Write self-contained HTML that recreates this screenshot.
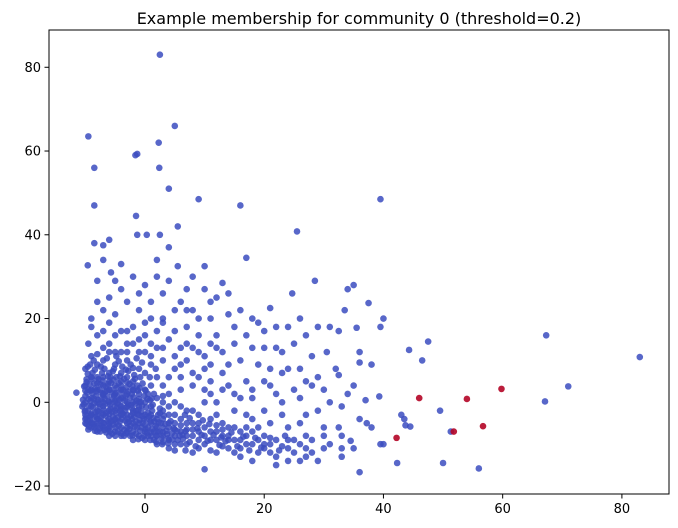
<!DOCTYPE html>
<html><head><meta charset="utf-8">
<style>
body{margin:0;background:#fff;}
svg{display:block;font-family:"DejaVu Sans","Liberation Sans",sans-serif;}
</style></head>
<body>
<svg id="chart" width="678" height="528" viewBox="0 0 678 528" xmlns="http://www.w3.org/2000/svg">
<rect width="678" height="528" fill="#fff"/>
<text x="359" y="24" font-size="16" text-anchor="middle" fill="#000">Example membership for community 0 (threshold=0.2)</text>
<g id="points"></g>
<g id="axes"></g>
</svg>
<script>
const xTicks = [0, 20, 40, 60, 80];
const yTicks = [-20, 0, 20, 40, 60, 80];
const memberX = [46, 54, 59.8, 56.7, 51.8, 42.2];
const memberY = [1, 0.8, 3.2, -5.7, -7, -8.5];
const otherPts = [[2.5,83],[-9.5,63.5],[5,66],[-8.5,56],[2.3,62],[2.4,56],[-1.6,59],[-1.3,59.3],[4,51],[9,48.5],[16,47],[39.5,48.5],[-8.5,47],[-1.5,44.5],[5.5,42],[25.5,40.8],[-1.3,40],[0.3,40],[2.5,40],[-8.5,38],[-6,38.8],[-7,37.5],[17,34.5],[-9.6,32.7],[-5.7,31],[5.5,32.5],[10,32.5],[28.5,29],[13,28.5],[35,28],[34,27],[24.7,26],[21,22.5],[37.5,23.7],[33.5,22],[40,20],[39.5,18],[29,18],[35.5,17.8],[32.5,17],[47.5,14.5],[67.3,16],[83,10.8],[46.5,10],[44.3,12.5],[71,3.8],[67.1,0.2],[39.3,1.4],[43,-3],[43.5,-4],[43.7,-5.5],[44.5,-5.8],[49.5,-2],[51.3,-7],[50,-14.5],[56,-15.8],[42.3,-14.5],[39.5,-10],[36,-16.7],[33,-13],[34.5,-9.2],[32.5,-6],[37.2,-5],[32.5,6.5],[36,9.5],[30.5,12],[38,9],[37,0.5],[34,2],[27,5],[28,11],[25,14],[22,13],[20,17],[24,18],[26,20],[18,13],[15,18],[12,16],[19,9],[21,8],[23,7],[25,3],[29,-2],[30,-6],[27,-8],[25,-12],[22,-13],[21,-10],[24,-9],[28,-12],[31,-10],[26,-5],[23,-3],[19,-6],[17,-3],[15,2],[17,5],[14,9],[12,13],[10,11],[8,22],[10,27],[12,25],[14,21],[16,22],[7,27],[4,29],[2,30],[0,28],[-2,30],[-4,27],[-6,25],[-8,24],[-9,20],[-7,22],[-5,21],[-3,24],[-1,22],[1,24],[3,20],[5,22],[7,18],[9,16],[11,20],[6,13],[4,15],[2,17],[0,16],[-2,18],[-4,17],[-6,19],[-8,16],[-9.5,14],[-7,13],[-5,12],[-3,14],[-1,12],[1,11],[3,10],[5,8],[7,10],[9,6],[11,5],[13,3],[15,-2],[13,-5],[11,-7],[9,-9],[10,-16],[14,-11],[17,-10],[19,-12],[16,-13],[12,-12],[20,-8],[18,-4],[8,-12],[6,-10],[4,-9],[2,-8],[0,-7],[-2,-7],[-4,-6],[-6,-5],[-8,-4],[-10,-2],[-11.5,2.3],[-10,0],[-9,3],[-9,6],[-8,9],[-7,6],[-6,3],[-5,0],[-4,-3],[-3,2],[-2,5],[-1,8],[0,3],[1,-1],[2,-4],[3,-6],[4,-3],[5,0],[6,3],[7,-2],[8,-5],[9,-3],[10,0],[11,2],[12,-3],[13,-8],[14,-6],[15,-9],[16,-7],[17,-8],[18,-10],[6,-7],[5,-5],[3,-2],[2,1],[1,4],[0,-3],[-1,-5],[-2,-2],[-3,-5],[-4,1],[-5,4],[-6,-2],[-7,-6],[-8,0],[-9,-5],[-10,4],[-7,2],[-6,7],[-5,9],[-4,7],[-3,10],[-2,0],[-1,2],[0,7],[1,9],[2,6],[3,4],[4,2],[-8,-7],[-6,-8],[-4,-8],[-2,-9],[0,-9],[2,-10],[4,-11],[7,-8],[10,-10],[12,-9],[-9,-1],[-7,-3],[-5,-4],[-3,-1],[-1,-3],[1,-5],[3,-8],[5,-8],[-10,8],[-9,11],[-7,10],[-3,6],[0,12],[2,13],[4,6],[6,9],[8,4],[8,13],[10,8],[-8,3],[-6,0],[-4,-1],[-2,3],[-7,-1],[-5,-7],[-3,-7],[-1,-8],[1,-8],[-9,1],[-10,-4],[-8,-2],[-6,-4],[-4,3],[-5,-2],[-7,4],[-8,6],[-6,5],[-4,5],[-2,-5],[0,0],[1,-3],[3,0],[5,-3],[7,-5],[9,-7],[11,-4],[-9,-3],[-7,-5],[-5,-6],[-3,-3],[-1,0],[-6,-6],[-8,-5],[-10,-5],[-9,-6],[-7,0],[-5,2],[-3,0],[-1,-1],[2,-6],[4,-6],[6,-4],[8,-8],[10,-6],[12,-7],[14,-9],[16,-11],[18,-7],[20,-11],[22,-9],[24,-11],[26,-10],[28,-9],[30,-11],[20,-2],[22,2],[26,8],[30,3],[33,-1],[35,4],[36,12],[31,18],[27,16],[23,12],[21,4],[18,1],[16,10],[13,12],[11,14],[9,20],[6,24],[3,26],[-1,26],[-5,29],[-8,29],[-7,34],[-4,33],[4,37],[2,34],[8,30],[14,26],[18,20],[20,13],[24,8],[28,4],[32,8],[36,-4],[38,-6],[40,-10],[33,-11],[29,-14],[26,-14],[22,-15],[18,-14],
[-9.5,-6.5],[-8.5,-6],[-7.5,-7],[-6.5,-7.2],[-5.5,-7.5],[-4.5,-7],[-3.5,-8],[-2.5,-8],[-1.5,-7.5],[-0.5,-8.5],[0.5,-8],[1.5,-9],
[-10,-3],[-9.2,-4.2],[-8.3,-3.5],[-7.4,-4.5],[-6.6,-3.2],[-5.7,-4.6],[-4.8,-4.8],[-3.9,-4],[-3,-6],[-2.2,-4],[-1.3,-6],[-0.4,-5],[0.5,-6],[1.5,-7],[2.5,-7],
[-10.5,-1],[-9.6,-2],[-8.7,-1.2],[-7.8,-2.2],[-6.9,-1.8],[-6,-2.8],[-5.1,-1],[-4.2,-2],[-3.3,-2],[-2.4,-3.2],[-1.5,-2],[-0.6,-2.2],[0.3,-4],[1.2,-2],[2.2,-3],
[-10,1.5],[-9.1,0.3],[-8.2,1.5],[-7.3,0.8],[-6.4,1.5],[-5.5,0.8],[-4.6,-0.2],[-3.7,1],[-2.8,-0.5],[-1.9,1.2],[-1,0.8],[-0.1,1.5],[0.8,0.5],
[-9.5,3],[-8.5,4.5],[-7.6,3],[-6.7,2.5],[-5.8,3],[-4.9,2.3],[-4,4],[-3.1,3.5],[-2.2,2],[-1.3,4],[-0.4,4.5],[0.5,2],
[-9.8,5.5],[-8.8,7],[-7.8,5.5],[-6.8,8],[-5.8,6],[-4.8,6],[-3.8,8.5],[-2.8,7.5],[-1.8,6.5],
[3,-4],[4,-5],[5,-6.5],[6,-5.5],[7,-6.5],[8,-6.5],[9,-5],[10,-8],[11,-9],[12,-5.5],[13,-6.5],[14,-8],[15,-6],[16,-9],[17,-6],[19,-9],[3,-9.5],[5,-10],[7,-10],[9,-11],[11,-11.5],[13,-10.5],[15,-12],[20,-10],[21,-12],[23,-10.5],[25,-9],[27,-11],[2.5,-1.5],[4,-1],[6,-1],[8,-2],[1.5,2],[3,1.5],
[-9.8,-5.2],[-8.9,-4.8],[-8,-5.6],[-7.1,-5.8],[-6.2,-6.4],[-5.3,-5.3],[-4.4,-5.6],[-3.5,-6.6],[-2.6,-6.4],[-1.7,-5.8],[-0.8,-6.8],[0.1,-6.4],[1,-7.2],[1.9,-8],[2.8,-8.6],[3.7,-7.6],[4.6,-8.9],[5.5,-9],[6.4,-8.7],
[-9.9,-3.6],[-9,-2.7],[-8.1,-3.3],[-7.2,-2.6],[-6.3,-4.4],[-5.4,-3.4],[-4.5,-3.6],[-3.6,-3],[-2.7,-4.6],[-1.8,-3.5],[-0.9,-4.2],[0,-5.4],[0.9,-4.6],[1.8,-5.6],[2.7,-5],[3.6,-6.8],[4.5,-7.4],[5.4,-6.9],[6.3,-7.8],
[-10.3,-0.5],[-9.4,-0.8],[-8.5,-0.2],[-7.6,-1.1],[-6.7,-0.4],[-5.8,-1.5],[-4.9,-2.6],[-4,-1.7],[-3.1,-1.2],[-2.2,-1.4],[-1.3,-2.8],[-0.4,-3.3],[0.5,-2.5],[1.4,-3.8],[2.3,-4.8],[3.2,-3.2],
[-9.7,2.3],[-8.8,2.2],[-7.9,0.6],[-7,1.8],[-6.1,0.2],[-5.2,1.6],[-4.3,0.6],[-3.4,0.4],[-2.5,1.1],[-1.6,-0.3],[-0.7,0.1],[0.2,-1.2],[1.1,0.9],
[-10.2,3.8],[-9.3,4.3],[-8.4,3.3],[-7.5,4.3],[-6.6,3.8],[-5.7,4.6],[-4.8,3.4],[-3.9,2.5],[-3,4.8],[-2.1,3.8],[-1.2,2.8],
[-9.6,8.5],[-8.6,10],[-7.4,8.5],[-6.4,10.5],[-5.4,7.4],[-4.4,9.8],[-2.4,9],[-1.4,10.5],[-0.5,9.5],[0.8,6],[1.8,8],
[7.5,-9.5],[8.5,-10.5],[9.5,-7.8],[10.5,-9.2],[11.5,-7.8],[12.5,-10.2],[13.5,-9.3],[14.5,-7.2],[15.5,-10.5],[16.5,-8.2],[17.5,-11.5],[18.5,-8.5],[19.5,-10.8],[21,-8.5],[22.5,-11.5],[23.5,-8],[6.8,-11.5],[8.8,-6.2],[10.8,-5.2],[12.8,-8.4],[5,-11.5],[7.5,-3.8],[9.7,-4.3],[4.3,-4.5],[6.7,-3],
[1,14],[3,13],[5,11],[7,14],[9,12],[11,9],[13,7],[14,4],[16,1],[18,3],[20,5],[12,0],[10,3],[8,7],[6,6],[5,17],[3,19],[1,20],[-1,15],[-3,17],[-5,16],[-7,17],[-9,18],[-6,14],[-4,12],[-2,14],[0,19],[7,22],[11,24],[15,14],[17,16],[19,19],[22,18],[21,-5],[24,-6],[27,-3],[23,0],[26,1],[24,-14],[27,-13],[30,-8],[31,0],[29,6],[33,-8],[35,-11],
[-9.4,-5.8],[-8.4,-6.8],[-7.6,-6.2],[-6.8,-6.6],[-5.9,-6.9],[-5,-8],[-4,-7.4],[-3.1,-7.4],[-2.1,-7.9],[-1.1,-8.8],[-0.1,-8],[0.9,-9],[1.9,-9.4],[2.9,-10],[3.9,-9.8],
[-9.6,-4.4],[-8.6,-5.2],[-7.8,-4],[-6.9,-5],[-6,-5.6],[-5.1,-4.2],[-4.2,-4.6],[-3.3,-4.4],[-2.4,-5.6],[-1.5,-4.6],[-0.6,-6],[0.3,-7.2],[1.2,-6.4],[2.1,-7],[3,-7.2],[3.9,-8.6],[4.8,-6.2],[5.8,-8],[6.8,-6.9],
[-10.1,-2.2],[-9.2,-3.3],[-8.3,-2.4],[-7.4,-3.7],[-6.5,-2.5],[-5.6,-2.2],[-4.7,-1.4],[-3.8,-2.6],[-2.9,-3.9],[-2,-2.6],[-1.1,-1.8],[-0.2,-4],[0.7,-3.4],[1.6,-4.6],[2.5,-2.6],[3.4,-5.2],
[-10.4,0.6],[-9.5,0.8],[-8.6,0.9],[-7.7,-0.4],[-6.8,0.9],[-5.9,-0.6],[-5,0.4],[-4.1,-0.8],[-3.2,1.6],[-2.3,-0.6],[-1.4,0.4],[-0.5,-0.8],[0.4,0.8],[1.3,-0.6],
[-10,2.8],[-9.1,2.8],[-8.2,2.6],[-7.3,2.2],[-6.4,2.8],[-5.5,2.2],[-4.6,1.4],[-3.7,3],[-2.8,2.6],[-1.9,2.8],[-0.9,3.4],[0.1,2.8],
[-9.8,4.8],[-8.9,5.6],[-8,4.6],[-7.1,5.2],[-6.2,4.4],[-5.3,5.4],[-4.4,4.6],[-3.5,5.6],[-2.6,4.4],[-1.7,5.6],[-0.8,6],
[-9.6,6.8],[-8.4,7.8],[-7.2,7],[-6.2,6.2],[-5.2,8],[-4.2,6.2],[-3.2,7.8],[-2,8.2],[-9.2,9],[-8,11.5],[-6,12],[-4.8,11],[-3,12]];

const W = 678, H = 528;
const L = 49, R = 669, T = 30, B = 494;
const xMin = -16.1, xMax = 87.9, yMin = -21.9, yMax = 88.9;
function sx(v){ return L + (v - xMin) / (xMax - xMin) * (R - L); }
function sy(v){ return B - (v - yMin) / (yMax - yMin) * (B - T); }
const NS = 'http://www.w3.org/2000/svg';
const pg = document.getElementById('points');
otherPts.forEach(p => {
  const c = document.createElementNS(NS, 'circle');
  c.setAttribute('cx', sx(p[0])); c.setAttribute('cy', sy(p[1])); c.setAttribute('r', 3.3);
  c.setAttribute('fill', '#3b4cc0'); c.setAttribute('fill-opacity', '0.85');
  
  
  pg.appendChild(c);
});
memberX.forEach((x, i) => {
  const c = document.createElementNS(NS, 'circle');
  c.setAttribute('cx', sx(x)); c.setAttribute('cy', sy(memberY[i])); c.setAttribute('r', 3.3);
  c.setAttribute('fill', '#b40426'); c.setAttribute('fill-opacity', '0.9');
  
  
  pg.appendChild(c);
});
const ax = document.getElementById('axes');
const frame = document.createElementNS(NS, 'rect');
frame.setAttribute('x', L); frame.setAttribute('y', T); frame.setAttribute('width', R - L); frame.setAttribute('height', B - T);
frame.setAttribute('fill', 'none'); frame.setAttribute('stroke', '#000'); frame.setAttribute('stroke-width', '1');


ax.appendChild(frame);
xTicks.forEach(t => {
  const x = sx(t);
  const ln = document.createElementNS(NS, 'line');
  ln.setAttribute('x1', x); ln.setAttribute('x2', x); ln.setAttribute('y1', B); ln.setAttribute('y2', B + 4.5);
  ln.setAttribute('stroke', '#000');
  
  
  ax.appendChild(ln);
  const tx = document.createElementNS(NS, 'text');
  tx.setAttribute('x', x); tx.setAttribute('y', B + 19); tx.setAttribute('font-size', '13'); tx.setAttribute('text-anchor', 'middle');
  tx.textContent = String(t);
  
  
  ax.appendChild(tx);
});
yTicks.forEach(t => {
  const y = sy(t);
  const ln = document.createElementNS(NS, 'line');
  ln.setAttribute('x1', L - 4.5); ln.setAttribute('x2', L); ln.setAttribute('y1', y); ln.setAttribute('y2', y);
  ln.setAttribute('stroke', '#000');
  
  
  ax.appendChild(ln);
  const tx = document.createElementNS(NS, 'text');
  tx.setAttribute('x', L - 8); tx.setAttribute('y', y + 4.5); tx.setAttribute('font-size', '13'); tx.setAttribute('text-anchor', 'end');
  tx.textContent = t < 0 ? '\u2212' + Math.abs(t) : String(t);
  
  
  ax.appendChild(tx);
});
</script>
</body></html>
